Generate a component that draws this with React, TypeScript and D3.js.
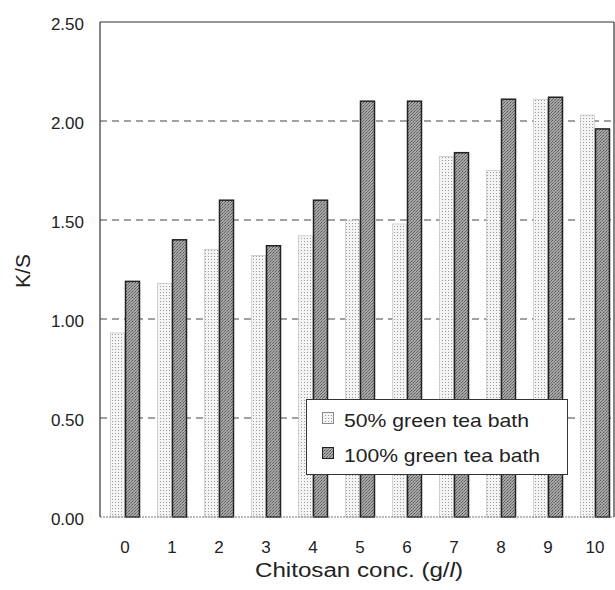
import React from "react";
import * as d3 from "d3";

const categories = ["0", "1", "2", "3", "4", "5", "6", "7", "8", "9", "10"];
const series50 = [0.93, 1.18, 1.35, 1.32, 1.42, 1.5, 1.48, 1.82, 1.75, 2.11, 2.03];
const series100 = [1.19, 1.4, 1.6, 1.37, 1.6, 2.1, 2.1, 1.84, 2.11, 2.12, 1.96];
const yTicks = [0, 0.5, 1.0, 1.5, 2.0, 2.5];
const seriesNames = ["50% green tea bath", "100% green tea bath"];

export default function App() {
  const W = 615, H = 590;
  const left = 100, right = 614, top = 22, bottom = 517;
  const x = d3.scaleBand<string>().domain(categories).range([101.5, 618.5]).paddingInner(0).paddingOuter(0);
  const y = d3.scaleLinear().domain([0, 2.5]).range([bottom, top]);
  const barW = 14;
  const font = "Arial, 'Liberation Sans', sans-serif";
  return (
    <svg width={W} height={H} style={{ position: "absolute", left: 0, top: 0, background: "#fff" }}>
      <defs>
        <pattern id="light" width="3" height="3" patternUnits="userSpaceOnUse">
          <rect width="3" height="3" fill="#f4f4f4" />
          <rect x="1" y="1" width="1" height="1" fill="#9a9a9a" />
        </pattern>
        <pattern id="dark" width="3" height="3" patternUnits="userSpaceOnUse">
          <rect width="3" height="3" fill="#a8a8a8" />
          <rect x="0" y="0" width="1" height="1" fill="#555" />
          <rect x="2" y="1" width="1" height="1" fill="#666" />
          <rect x="1" y="2" width="1" height="1" fill="#777" />
        </pattern>
        <clipPath id="plotclip">
          <rect x={left} y={0} width={right - left} height={H} />
        </clipPath>
      </defs>
      {yTicks.filter(t => t > 0 && t < 2.5).map(t => (
        <line key={t} x1={left} x2={right} y1={y(t)} y2={y(t)} stroke="#444" strokeWidth={1} strokeDasharray="7,5" />
      ))}
      <g clipPath="url(#plotclip)">
        {categories.map((c, i) => {
          const cx = x(c)! + x.bandwidth() / 2;
          return (
            <g key={c}>
              <rect x={cx - barW - 0.5} y={y(series50[i])} width={barW} height={bottom - y(series50[i])} fill="url(#light)" stroke="#bbb" strokeWidth={0.6} />
              <rect x={cx + 0.5} y={y(series100[i])} width={barW} height={bottom - y(series100[i])} fill="url(#dark)" stroke="#222" strokeWidth={1.5} />
            </g>
          );
        })}
      </g>
      <line x1={left} x2={right} y1={top} y2={top} stroke="#333" strokeWidth={1.2} />
      <line x1={left} x2={left} y1={top} y2={bottom} stroke="#333" strokeWidth={1.2} />
      <line x1={right} x2={right} y1={top} y2={bottom} stroke="#333" strokeWidth={1.2} />
      <line x1={left} x2={right} y1={bottom} y2={bottom} stroke="#777" strokeWidth={1} strokeDasharray="2,1" />
      {yTicks.map(t => (
        <text key={t} x={84} y={y(t) + 2} dy="0.35em" textAnchor="end" fontSize={17} fontFamily={font} fill="#222">
          {t.toFixed(2)}
        </text>
      ))}
      {categories.map(c => (
        <text key={c} x={x(c)! + x.bandwidth() / 2} y={553} textAnchor="middle" fontSize={17} fontFamily={font} fill="#222">
          {c}
        </text>
      ))}
      <text x={255} y={577} textLength={208} lengthAdjust="spacingAndGlyphs" fontSize={20} fontFamily={font} fill="#222">
        Chitosan conc. (g/<tspan fontStyle="italic">l</tspan>)
      </text>
      <text transform={`translate(23,271) rotate(-90)`} textAnchor="middle" dy="0.35em" fontSize={21} fontFamily={font} fill="#222">
        K/S
      </text>
      <g>
        <rect x={306.5} y={399.5} width={261} height={75} fill="#fff" stroke="#333" strokeWidth={1} />
        {seriesNames.map((n, i) => (
          <g key={n}>
            <rect x={322.5} y={412.5 + i * 35} width={11} height={11} fill={i === 0 ? "url(#light)" : "url(#dark)"} stroke={i === 0 ? "#888" : "#222"} strokeWidth={1} />
            <text x={344} y={427 + i * 35} textLength={i === 0 ? 185 : 196} lengthAdjust="spacingAndGlyphs" fontSize={18.5} fontFamily={font} fill="#222">{n}</text>
          </g>
        ))}
      </g>
    </svg>
  );
}
